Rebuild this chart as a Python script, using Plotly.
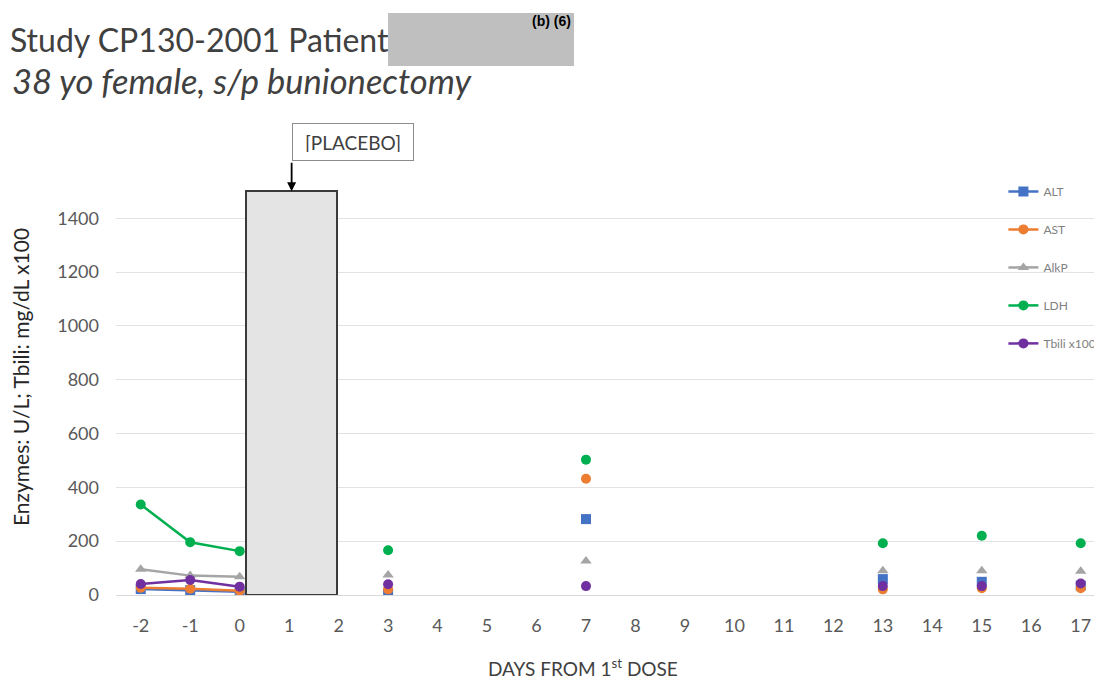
import pandas as pd
import plotly.graph_objects as go

# lab values (U/L, Tbili mg/dL x100)
DAYS = [-2, -1, 0, 3, 7, 13, 15, 17]
ALT = [22, 18, 12, 6, 282, 59, 49, 35]
AST = [27, 23, 16, 21, 432, 21, 25, 25]
ALKP = [96, 72, 68, 74, 126, 90, 90, 88]
LDH = [336, 196, 163, 166, 503, 192, 220, 192]
TBILI = [41, 56, 31, 40, 33, 33, 33, 43]

SERIES = ['ALT', 'AST', 'AlkP', 'LDH', 'Tbili x100']
COLORS = ['#4472C4', '#ED7D31', '#A5A5A5', '#00B050', '#7030A0']
SYMBOLS = ['square', 'circle', 'triangle-up', 'circle', 'circle']

# placebo dosing period box
PLACEBO_DAY = [1.05]
PLACEBO_WIDTH = 1.84
PLACEBO_HEIGHT = [1500]

TICK_DAYS = list(range(-2, 18))
TICK_TEXT = [str(d) for d in TICK_DAYS]  # plain hyphen, not unicode minus
Y_TICKS = [0, 200, 400, 600, 800, 1000, 1200, 1400]

FONT = 'Lato'
GREY = '#595959'

df = pd.DataFrame(
    {'ALT': ALT, 'AST': AST, 'AlkP': ALKP, 'LDH': LDH, 'Tbili x100': TBILI},
    index=DAYS,
)
# reindex on every day so the lines break where no sample was drawn
df = df.reindex(TICK_DAYS)

fig = go.Figure()

for i, (name, color, symbol) in enumerate(zip(SERIES, COLORS, SYMBOLS)):
    fig.add_trace(
        go.Scatter(
            x=df.index,
            y=df[name],
            name=name,
            mode='lines+markers',
            connectgaps=False,
            line={'color': color, 'width': 2.5},
            marker={'color': color, 'symbol': symbol, 'size': 10},
            legendgroup=f'g{i}',
        )
    )

fig.add_trace(
    go.Bar(
        x=PLACEBO_DAY,
        y=PLACEBO_HEIGHT,
        width=PLACEBO_WIDTH,
        marker={'color': '#E4E4E4', 'line': {'color': '#3A3A3A', 'width': 2}},
        showlegend=False,
        cliponaxis=False,
    )
)

fig.update_xaxes(
    range=[-2.5, 17.43],
    tickvals=TICK_DAYS,
    ticktext=TICK_TEXT,
    showgrid=False,
    zeroline=False,
    showline=True,
    linecolor='#D9D9D9',
    linewidth=1,
    tickfont={'family': FONT, 'size': 18, 'color': GREY},
    ticklabelstandoff=14,
)

fig.update_yaxes(
    range=[0, 1505],
    tickvals=Y_TICKS,
    showgrid=True,
    gridcolor='#E3E3E3',
    gridwidth=1,
    zeroline=False,
    tickfont={'family': FONT, 'size': 18, 'color': GREY},
    ticklabelstandoff=16,
)

fig.add_annotation(
    text='Enzymes: U/L; Tbili: mg/dL x100',
    xref='paper', yref='paper',
    x=-0.0974, y=0.538,
    xanchor='center', yanchor='middle',
    textangle=-90,
    showarrow=False,
    font={'family': FONT, 'size': 21, 'color': '#262626'},
)

fig.add_annotation(
    text='DAYS FROM 1<sup>st</sup> DOSE',
    xref='paper', yref='paper',
    x=0.474, y=-0.179,
    xanchor='center', yanchor='middle',
    showarrow=False,
    font={'family': FONT, 'size': 19, 'color': '#404040'},
)

# subtitle
fig.add_annotation(
    text='<i>38 yo female, s/p bunionectomy</i>',
    xref='paper', yref='paper',
    x=-0.1075, y=1.27,
    xanchor='left', yanchor='middle',
    showarrow=False,
    font={'family': FONT, 'size': 34.5, 'color': '#404040'},
)

# redacted patient id
fig.add_shape(
    type='rect',
    xref='paper', yref='paper',
    x0=0.2759, x1=0.4645, y0=1.306, y1=1.437,
    fillcolor='#BFBFBF',
    line={'width': 0},
)
fig.add_annotation(
    text='<b>(b) (6)</b>',
    xref='paper', yref='paper',
    x=0.4635, y=1.417,
    xanchor='right', yanchor='middle',
    showarrow=False,
    font={'family': 'Liberation Sans', 'size': 14, 'color': '#000000'},
)

# placebo label and arrow
fig.add_annotation(
    text='[PLACEBO]',
    x=PLACEBO_DAY[0], y=PLACEBO_HEIGHT[0],
    xanchor='left', yanchor='bottom',
    yshift=30,
    showarrow=False,
    width=104, height=20,
    borderpad=8,
    bordercolor='#8C8C8C', borderwidth=1,
    bgcolor='white',
    font={'family': FONT, 'size': 19, 'color': '#404040'},
)
fig.add_annotation(
    text='',
    x=PLACEBO_DAY[0], y=PLACEBO_HEIGHT[0],
    ax=0, ay=-30,
    showarrow=True,
    arrowhead=2, arrowsize=1, arrowwidth=1.8,
    arrowcolor='#000000',
    font={'size': 1},
)

# the page adds an 8px body margin, so the figure is 8px smaller and
# margins are measured from there
fig.update_layout(
    width=1094,
    height=675,
    margin={'l': 108, 'r': 0, 't': 182, 'b': 88},
    paper_bgcolor='white',
    plot_bgcolor='white',
    title={
        'text': 'Study CP130-2001 Patient',
        'x': 0.0018, 'xanchor': 'left',
        'y': 0.951, 'yanchor': 'middle',
        'font': {'family': FONT, 'size': 32, 'color': '#404040'},
    },
    legend={
        'x': 0.9, 'y': 1.0324,
        'xanchor': 'left', 'yanchor': 'top',
        'bgcolor': 'rgba(0,0,0,0)',
        'font': {'family': FONT, 'size': 12, 'color': '#7F7F7F'},
        'tracegroupgap': 19,
        'traceorder': 'grouped',
        'itemwidth': 30,
    },
    showlegend=True,
    bargap=0,
)

fig.write_html('out.html')
